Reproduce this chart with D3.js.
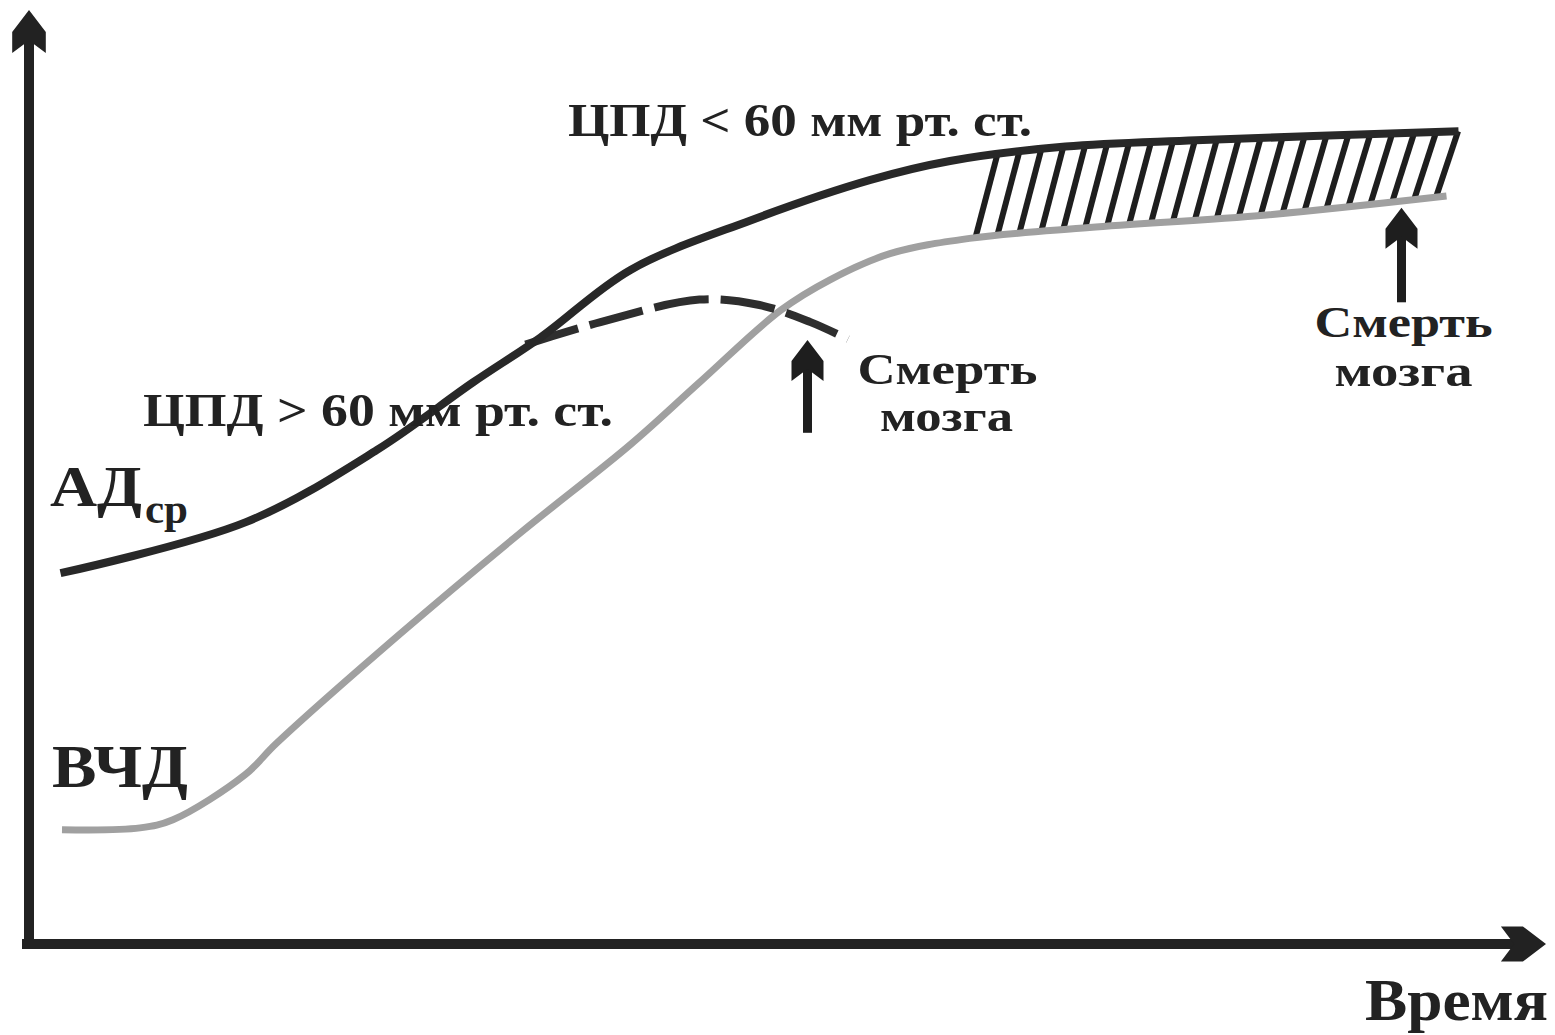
<!DOCTYPE html>
<html>
<head>
<meta charset="utf-8">
<script src="https://cdn.jsdelivr.net/npm/d3@7"></script>
<style>
  body { margin: 0; background: #fff; }
  svg text { font-family: "Liberation Serif", "Times New Roman", serif; font-weight: bold; fill: #222; }
</style>
</head>
<body>
<svg width="1555" height="1035"></svg>
<script>
// time (0..100) vs pressure (0..100)
var adTime  = [1.7, 14.1, 22.8, 29.2, 33.7, 39.7, 47.7, 55.7, 61, 68.7, 77.4, 94.9]
var adValue = [41.2, 46.9, 54.9, 62.4, 67.4, 74.9, 80.4, 84.9, 87, 88.6, 89.3, 90.3]

var icpTime  = [1.8, 7, 9.2, 14, 16.1, 24.3, 32.3, 39.7, 44.3, 49.7, 53, 57, 62.3, 70.3, 82.1, 94.1]
var icpValue = [12.7, 12.9, 13.8, 18.8, 22.3, 34.4, 45.6, 55.5, 62.4, 70.4, 73.8, 76.7, 78.4, 79.6, 81, 83.1]

// dashed branch: АД falls after brain death
var dropTime  = [32.7, 37.7, 44.3, 48.3, 51.7, 54.2]
var dropValue = [66.6, 69.1, 71.6, 71, 69.1, 67.2]

// hatched zone (ЦПД < 60)
var hatchFrom = 62.7, hatchTo = 93.4, hatchCount = 22, hatchSlant = 1.47

// "Смерть мозга" arrows: time, base, tip
var deathTime = [51.5, 91.1]
var deathBase = [56.8, 71.3]
var deathTip  = [67.1, 81.8]

var ad = adTime.map((t, i) => ({t: t, v: adValue[i]}))
var icp = icpTime.map((t, i) => ({t: t, v: icpValue[i]}))
var drop = dropTime.map((t, i) => ({t: t, v: dropValue[i]}))

var x = d3.scaleLinear().domain([0, 100]).range([35, 1535])
var y = d3.scaleLinear().domain([0, 100]).range([944, 44])

var svg = d3.select("svg")

var line = d3.line()
  .x(d => x(d.t))
  .y(d => y(d.v))
  .curve(d3.curveCatmullRom.alpha(0.5))

// hidden guides to read y at a given x
function yAt(node, px) {
  var lo = 0, hi = node.getTotalLength()
  for (var k = 0; k < 40; k++) {
    var mid = (lo + hi) / 2
    if (node.getPointAtLength(mid).x < px) lo = mid; else hi = mid
  }
  return node.getPointAtLength(lo).y
}

var adGuide = svg.append("path").attr("d", line(ad)).attr("fill", "none").attr("stroke", "none").node()
var icpGuide = svg.append("path").attr("d", line(icp)).attr("fill", "none").attr("stroke", "none").node()

var step = (hatchTo - hatchFrom) / (hatchCount - 1)
var hatches = d3.range(hatchCount).map(i => {
  var tb = hatchFrom + i * step
  var xb = x(tb), xt = x(tb + hatchSlant)
  return {x1: xb, y1: yAt(icpGuide, xb), x2: xt, y2: yAt(adGuide, xt)}
})

svg.append("g").selectAll("line")
  .data(hatches)
  .enter()
  .append("line")
  .attr("x1", d => d.x1).attr("y1", d => d.y1)
  .attr("x2", d => d.x2).attr("y2", d => d.y2)
  .attr("stroke", "#1e1e1e")
  .attr("stroke-width", 6)

svg.append("path")
  .attr("d", line(icp))
  .attr("fill", "none")
  .attr("stroke", "#a0a0a0")
  .attr("stroke-width", 7)

svg.append("path")
  .attr("d", line(drop))
  .attr("fill", "none")
  .attr("stroke", "#2e2e2e")
  .attr("stroke-width", 8)
  .attr("stroke-dasharray", "55,12")

svg.append("path")
  .attr("d", line(ad))
  .attr("fill", "none")
  .attr("stroke", "#282828")
  .attr("stroke-width", 8)

// arrow head with notched back, tip at origin pointing up
function head(s) {
  return d3.line()([[0, 0], [-16 * s, 21 * s], [-16 * s, 41 * s], [0, 29 * s], [16 * s, 41 * s], [16 * s, 21 * s]]) + "Z"
}

// axes
var x0 = x.range()[0] - 6, y0 = y.range()[0]
svg.append("line")
  .attr("x1", x0).attr("y1", y0 + 5).attr("x2", x0).attr("y2", 30)
  .attr("stroke", "#222").attr("stroke-width", 10)
svg.append("path")
  .attr("d", head(1.05))
  .attr("transform", `translate(${x0},10)`)
  .attr("fill", "#222")

svg.append("line")
  .attr("x1", x0 - 7).attr("y1", y0).attr("x2", 1525).attr("y2", y0)
  .attr("stroke", "#222").attr("stroke-width", 10)
svg.append("path")
  .attr("d", head(1.1))
  .attr("transform", `translate(1546,${y0}) rotate(90)`)
  .attr("fill", "#222")

// brain death arrows
deathTime.forEach((t, i) => {
  svg.append("line")
    .attr("x1", x(t)).attr("x2", x(t))
    .attr("y1", y(deathBase[i])).attr("y2", y(deathTip[i]) + 15)
    .attr("stroke", "#1e1e1e").attr("stroke-width", 9)
  svg.append("path")
    .attr("d", head(1))
    .attr("transform", `translate(${x(t)},${y(deathTip[i])})`)
    .attr("fill", "#1e1e1e")
})

// labels
function label(txt, px, py, size, width, anchor) {
  return svg.append("text")
    .attr("x", px).attr("y", py)
    .attr("font-size", size)
    .attr("text-anchor", anchor || "start")
    .attr("textLength", width)
    .attr("lengthAdjust", "spacingAndGlyphs")
    .text(txt)
}

label("ЦПД < 60 мм рт. ст.", 568, 136, 46, 464)
label("ЦПД > 60 мм рт. ст.", 143, 426, 46, 470)

svg.append("text").attr("x", 50).attr("y", 506).attr("font-size", 58)
  .attr("textLength", 92).attr("lengthAdjust", "spacingAndGlyphs").text("АД")
svg.append("text").attr("x", 145).attr("y", 523).attr("font-size", 40)
  .attr("textLength", 43).attr("lengthAdjust", "spacingAndGlyphs").text("ср")

label("ВЧД", 52, 787, 62, 136)

label("Смерть", x(deathTime[0]) + 140, 384, 44, 180, "middle")
label("мозга", x(deathTime[0]) + 139, 431, 44, 133, "middle")
label("Смерть", x(deathTime[1]) + 2, 337, 44, 178, "middle")
label("мозга", x(deathTime[1]) + 2, 386, 44, 138, "middle")

label("Время", 1548, 1020, 60, 183, "end")
</script>
</body>
</html>
